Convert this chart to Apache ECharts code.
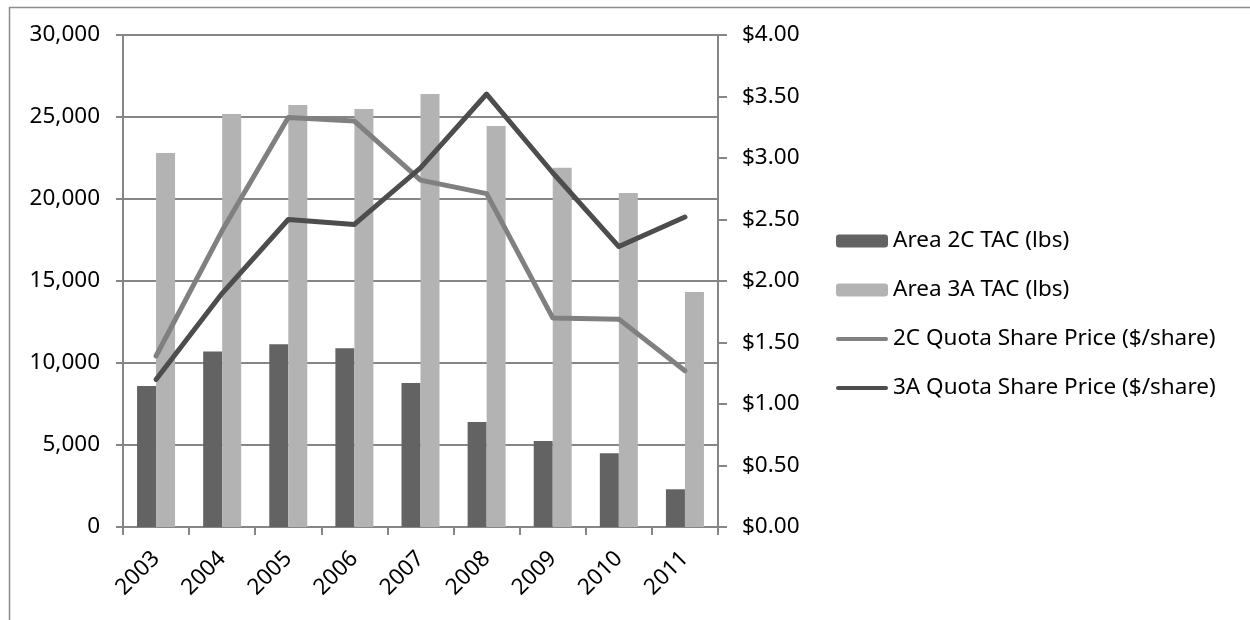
<!DOCTYPE html>
<html>
<head>
<meta charset="utf-8">
<script src="https://cdn.jsdelivr.net/npm/echarts@6/dist/echarts.min.js"></script>
<style>
html,body{margin:0;padding:0;background:#fff;}
#chart{width:1250px;height:620px;}
</style>
</head>
<body>
<div id="chart"></div>
<script>
const years = ['2003','2004','2005','2006','2007','2008','2009','2010','2011'];
const tac2C = [8600, 10700, 11150, 10900, 8780, 6400, 5240, 4500, 2300];
const tac3A = [22800, 25180, 25730, 25490, 26400, 24450, 21900, 20370, 14330];
const price2C = [1.39, 2.41, 3.33, 3.30, 2.82, 2.71, 1.70, 1.69, 1.27];
const price3A = [1.20, 1.90, 2.50, 2.46, 2.92, 3.52, 2.88, 2.28, 2.52];
const seriesNames = ['Area 2C TAC (lbs)','Area 3A TAC (lbs)','2C Quota Share Price ($/share)','3A Quota Share Price ($/share)'];

const FONT = 'Noto Sans';
const FS = 22.5;
const AX = '#868686';
const LINE_ICON = 'path://M2,0H50A2,2 0 0 1 50,4H2A2,2 0 0 1 2,0Z';
const chart = echarts.init(document.getElementById('chart'), null, {renderer:'canvas'});
chart.setOption({
  animation:false,
  backgroundColor:'#fff',
  textStyle:{fontFamily:FONT},
  graphic:[{type:'rect', left:7, top:5, shape:{width:1400, height:800}, style:{fill:'none', stroke:'#8c8c8c', lineWidth:1.5}, silent:true}],
  grid:{left:123, right:532, top:35, bottom:93, containLabel:false},
  legend:{
    orient:'vertical', left:836, top:229, padding:0, itemWidth:52, itemHeight:13, itemGap:25, itemTextGap:5,
    textStyle:{fontFamily:FONT, fontSize:FS, color:'#000', lineHeight:24},
    data:[
      {name:seriesNames[0]},
      {name:seriesNames[1]},
      {name:seriesNames[2], icon:LINE_ICON, itemStyle:{color:'#808080'}},
      {name:seriesNames[3], icon:LINE_ICON, itemStyle:{color:'#4d4d4d'}}
    ]
  },
  xAxis:{
    type:'category', data:years,
    axisLine:{lineStyle:{color:AX, width:2}},
    axisTick:{show:true, length:8, lineStyle:{color:AX, width:2}},
    axisLabel:{rotate:45, fontFamily:FONT, fontSize:FS, color:'#000', margin:28}
  },
  yAxis:[{
    type:'value', min:0, max:30000, interval:5000, position:'left',
    axisLine:{show:true, lineStyle:{color:AX, width:2}},
    axisTick:{show:true, length:7, lineStyle:{color:AX, width:2}},
    splitLine:{show:true, lineStyle:{color:AX, width:2}},
    axisLabel:{fontFamily:FONT, fontSize:FS, color:'#000', margin:23,
      formatter:v=>v.toLocaleString('en-US')}
  },{
    type:'value', min:0, max:4, interval:0.5, position:'right',
    axisLine:{show:true, lineStyle:{color:AX, width:2}},
    axisTick:{show:true, length:9, lineStyle:{color:AX, width:2}},
    splitLine:{show:false},
    axisLabel:{fontFamily:FONT, fontSize:FS, color:'#000', margin:24,
      formatter:v=>'$'+v.toFixed(2)}
  }],
  series:[
    {name:seriesNames[0], type:'bar', data:tac2C, yAxisIndex:0, barWidth:19, barGap:'0%', itemStyle:{color:'#636363'}},
    {name:seriesNames[1], type:'bar', data:tac3A, yAxisIndex:0, barWidth:19, barGap:'0%', itemStyle:{color:'#b3b3b3'}},
    {name:seriesNames[2], type:'line', data:price2C, yAxisIndex:1, symbol:'none', lineStyle:{color:'#808080', width:5, cap:'round', join:'round'}, itemStyle:{color:'#808080'}},
    {name:seriesNames[3], type:'line', data:price3A, yAxisIndex:1, symbol:'none', lineStyle:{color:'#4d4d4d', width:5, cap:'round', join:'round'}, itemStyle:{color:'#4d4d4d'}}
  ]
});
</script>
</body>
</html>
